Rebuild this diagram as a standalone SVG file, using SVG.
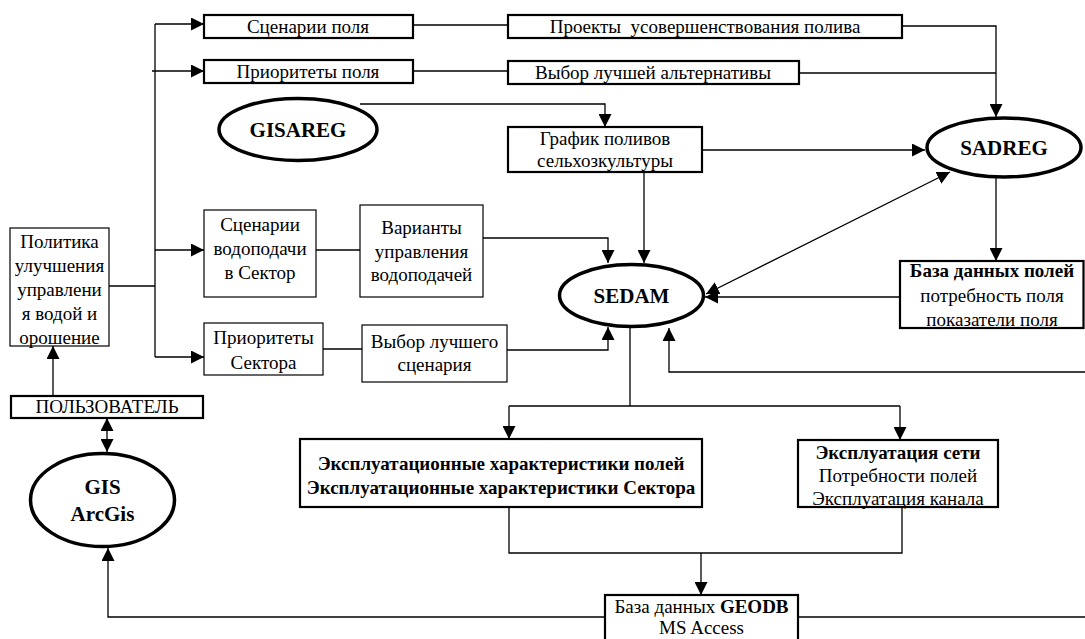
<svg xmlns="http://www.w3.org/2000/svg" width="1085" height="639" viewBox="0 0 1085 639">
  <style>
    text { font-family: "Liberation Serif", "Times New Roman", serif; font-size: 19px; fill: #000; text-anchor: middle; }
    .b { font-weight: bold; }
    .big { font-size: 21px; font-weight: bold; }
    .thin { fill: #fff; stroke: #000; stroke-width: 1.2; }
    .thick { fill: #fff; stroke: #000; stroke-width: 2.2; }
    .oval { fill: #fff; stroke: #000; stroke-width: 3.5; }
    .wire { fill: none; stroke: #000; stroke-width: 1.3; }
    .arr { marker-end: url(#head); }
    .both { marker-start: url(#head); marker-end: url(#head); }
  </style>
  <defs>
    <marker id="head" markerUnits="userSpaceOnUse" viewBox="0 0 13 13" refX="13" refY="6.5" markerWidth="13" markerHeight="13" orient="auto-start-reverse">
      <path d="M0,0 L13,6.5 L0,13 z" fill="#000"/>
    </marker>
  </defs>
  <rect width="1085" height="639" fill="#fff"/>

  <g id="connectors">
    <path class="wire" d="M155,24 V357"/>
    <path class="wire arr" d="M155,24 H204"/>
    <path class="wire arr" d="M152,71 H204"/>
    <path class="wire" d="M109,286 H155"/>
    <path class="wire arr" d="M155,250 H204"/>
    <path class="wire arr" d="M155,357 H204"/>
    <path class="wire" d="M413,25 H508"/>
    <path class="wire arr" d="M902,26 H996 V117"/>
    <path class="wire" d="M413,71 H508"/>
    <path class="wire" d="M799,73 H996"/>
    <path class="wire arr" d="M360,104 H605 V127"/>
    <path class="wire arr" d="M702,150 H925"/>
    <path class="wire arr" d="M644,172 V263"/>
    <path class="wire" d="M316,250 H360"/>
    <path class="wire arr" d="M483,238 H608 V263"/>
    <path class="wire" d="M323,349 H362"/>
    <path class="wire arr" d="M507,350 H608 V327"/>
    <path class="wire arr" d="M900,297 H705"/>
    <path class="wire both" d="M706,294 L950,172"/>
    <path class="wire arr" d="M996,178 V261"/>
    <path class="wire arr" d="M1085,372 H669 V328"/>
    <path class="wire" d="M630,328 V406"/>
    <path class="wire" d="M509,406 H900"/>
    <path class="wire arr" d="M509,406 V439"/>
    <path class="wire arr" d="M900,406 V440"/>
    <path class="wire" d="M509,507 V553 H902 V507"/>
    <path class="wire arr" d="M701,553 V595"/>
    <path class="wire arr" d="M605,617 H108 V548"/>
    <path class="wire" d="M798,617 H1085"/>
    <path class="wire arr" d="M53,396 V346"/>
    <path class="wire both" d="M107,418 V452"/>
  </g>

  <g id="field-scenarios">
    <rect class="thick" x="204" y="15" width="209" height="23"/>
    <text x="308" y="33">Сценарии поля</text>
  </g>
  <g id="irrigation-projects">
    <rect class="thick" x="508" y="15" width="394" height="23"/>
    <text x="705" y="33" xml:space="preserve">Проекты  усовершенствования полива</text>
  </g>
  <g id="field-priorities">
    <rect class="thick" x="204" y="60" width="209" height="23"/>
    <text x="308" y="78">Приоритеты поля</text>
  </g>
  <g id="best-alternative">
    <rect class="thick" x="508" y="61" width="291" height="23"/>
    <text x="653" y="79">Выбор лучшей альтернативы</text>
  </g>
  <g id="gisareg">
    <ellipse class="oval" cx="298" cy="129.5" rx="79" ry="31"/>
    <text class="big" x="298" y="137">GISAREG</text>
  </g>
  <g id="crop-schedule">
    <rect class="thick" x="508" y="127" width="194" height="45"/>
    <text x="605" y="145">График поливов</text>
    <text x="605" y="167">сельхозкультуры</text>
  </g>
  <g id="sadreg">
    <ellipse class="oval" cx="1004" cy="147.5" rx="77" ry="29.5"/>
    <text class="big" x="1004" y="155">SADREG</text>
  </g>
  <g id="policy">
    <rect class="thin" x="10" y="228" width="99" height="118"/>
    <text x="59.5" y="248">Политика</text>
    <text x="59.5" y="272">улучшения</text>
    <text x="59.5" y="296">управлени</text>
    <text x="59.5" y="320">я водой и</text>
    <text x="59.5" y="344">орошение</text>
  </g>
  <g id="sector-supply-scenarios">
    <rect class="thin" x="204" y="210" width="112" height="87"/>
    <text x="260" y="231">Сценарии</text>
    <text x="260" y="255">водоподачи</text>
    <text x="260" y="279">в Сектор</text>
  </g>
  <g id="supply-options">
    <rect class="thin" x="360" y="205" width="123" height="92"/>
    <text x="421.5" y="234">Варианты</text>
    <text x="421.5" y="258">управления</text>
    <text x="421.5" y="281">водоподачей</text>
  </g>
  <g id="sector-priorities">
    <rect class="thin" x="204" y="323" width="119" height="52"/>
    <text x="263.5" y="344">Приоритеты</text>
    <text x="263.5" y="369">Сектора</text>
  </g>
  <g id="best-scenario">
    <rect class="thin" x="362" y="325" width="145" height="57"/>
    <text x="434.5" y="348">Выбор лучшего</text>
    <text x="434.5" y="371">сценария</text>
  </g>
  <g id="sedam">
    <ellipse class="oval" cx="631.5" cy="295.5" rx="72" ry="31"/>
    <text class="big" x="631.5" y="303">SEDAM</text>
  </g>
  <g id="field-database">
    <rect class="thick" x="900" y="261" width="183.5" height="67"/>
    <text class="b" x="992" y="277">База данных полей</text>
    <text x="992" y="302">потребность поля</text>
    <text x="992" y="326">показатели поля</text>
  </g>
  <g id="user">
    <rect class="thick" x="11" y="396" width="192" height="22"/>
    <text x="107" y="413">ПОЛЬЗОВАТЕЛЬ</text>
  </g>
  <g id="gis">
    <ellipse class="oval" cx="102.5" cy="500" rx="72" ry="46.5"/>
    <text class="big" x="102.5" y="494">GIS</text>
    <text class="big" x="102.5" y="521">ArcGis</text>
  </g>
  <g id="operating-characteristics">
    <rect class="thick" x="300" y="439" width="402" height="68"/>
    <text class="b" x="501" y="470">Эксплуатационные характеристики полей</text>
    <text class="b" x="501" y="494">Эксплуатационные характеристики Сектора</text>
  </g>
  <g id="network-operation">
    <rect class="thick" x="798" y="440" width="200" height="67"/>
    <text class="b" x="898" y="459">Эксплуатация сети</text>
    <text x="898" y="482">Потребности полей</text>
    <text x="898" y="505">Эксплуатация канала</text>
  </g>
  <g id="geodb">
    <rect class="thick" x="605" y="595" width="193" height="50"/>
    <text x="701.5" y="613">База данных <tspan class="b">GEODB</tspan></text>
    <text x="701.5" y="634">MS Access</text>
  </g>
</svg>
